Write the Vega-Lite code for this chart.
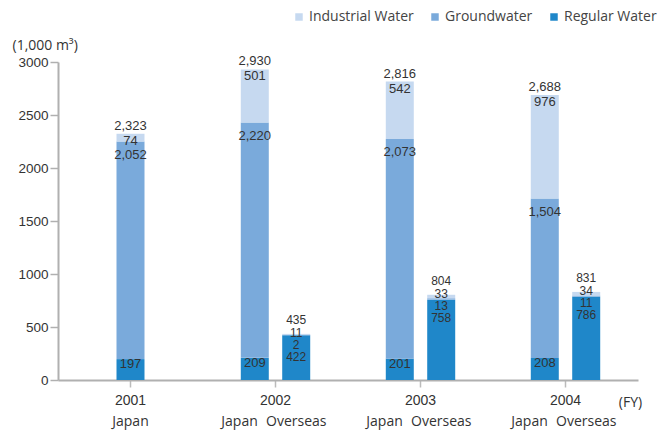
{
  "$schema": "https://vega.github.io/schema/vega-lite/v6.json",
  "width": 580,
  "height": 318,
  "autosize": {"type": "none"},
  "padding": {"left": 58, "top": 62, "right": 28, "bottom": 52},
  "background": "white",
  "config": {"view": {"stroke": null}, "font": "Liberation Sans"},
  "data": {
    "values": [
      {"year": "2001", "region": "Japan", "series": "Regular Water", "value": 197},
      {"year": "2001", "region": "Japan", "series": "Groundwater", "value": 2052},
      {"year": "2001", "region": "Japan", "series": "Industrial Water", "value": 74},
      {"year": "2002", "region": "Japan", "series": "Regular Water", "value": 209},
      {"year": "2002", "region": "Japan", "series": "Groundwater", "value": 2220},
      {"year": "2002", "region": "Japan", "series": "Industrial Water", "value": 501},
      {"year": "2002", "region": "Overseas", "series": "Regular Water", "value": 422},
      {"year": "2002", "region": "Overseas", "series": "Groundwater", "value": 2},
      {"year": "2002", "region": "Overseas", "series": "Industrial Water", "value": 11},
      {"year": "2003", "region": "Japan", "series": "Regular Water", "value": 201},
      {"year": "2003", "region": "Japan", "series": "Groundwater", "value": 2073},
      {"year": "2003", "region": "Japan", "series": "Industrial Water", "value": 542},
      {"year": "2003", "region": "Overseas", "series": "Regular Water", "value": 758},
      {"year": "2003", "region": "Overseas", "series": "Groundwater", "value": 13},
      {"year": "2003", "region": "Overseas", "series": "Industrial Water", "value": 33},
      {"year": "2004", "region": "Japan", "series": "Regular Water", "value": 208},
      {"year": "2004", "region": "Japan", "series": "Groundwater", "value": 1504},
      {"year": "2004", "region": "Japan", "series": "Industrial Water", "value": 976},
      {"year": "2004", "region": "Overseas", "series": "Regular Water", "value": 786},
      {"year": "2004", "region": "Overseas", "series": "Groundwater", "value": 11},
      {"year": "2004", "region": "Overseas", "series": "Industrial Water", "value": 34}
    ]
  },
  "transform": [
    {"calculate": "indexof(['Regular Water','Groundwater','Industrial Water'], datum.series)", "as": "rank"},
    {"calculate": "datum.year === '2001' ? 'C' : datum.region", "as": "slot"},
    {"stack": "value", "groupby": ["year", "region"], "sort": [{"field": "rank", "order": "ascending"}], "as": ["v0", "v1"]},
    {"joinaggregate": [{"op": "sum", "field": "value", "as": "total"}], "groupby": ["year", "region"]}
  ],
  "encoding": {
    "x": {
      "field": "year", "type": "ordinal",
      "scale": {"domain": ["2001", "2002", "2003", "2004"], "paddingInner": 0, "paddingOuter": 0},
      "axis": {
        "title": "(FY)", "titleX": 572, "titleY": 22, "titleAlign": "center", "titleBaseline": "middle",
        "titleFont": "Open Sans", "titleFontWeight": "normal", "titleFontSize": 14, "titleColor": "#333",
        "labelAngle": 0, "labelFont": "Liberation Sans", "labelFontSize": 14, "labelColor": "#333",
        "labelPadding": 6, "tickSize": 7, "tickColor": "#bbb", "tickWidth": 1.5,
        "domainColor": "#b0b0b0", "domainWidth": 2
      }
    },
    "xOffset": {
      "field": "slot", "type": "nominal",
      "scale": {"domain": ["p1", "p2", "Japan", "C", "Overseas", "p3", "p4"], "paddingInner": 0, "paddingOuter": 0}
    }
  },
  "layer": [
    {
      "mark": {"type": "bar", "width": 28},
      "encoding": {
        "y": {
          "field": "v1", "type": "quantitative", "title": "(1,000 m³)",
          "scale": {"domain": [0, 3000], "nice": false},
          "axis": {
            "titleAngle": 0, "titleAlign": "left", "titleBaseline": "middle", "titleX": -46, "titleY": -17,
            "titleFont": "Open Sans", "titleFontWeight": "normal", "titleFontSize": 14, "titleColor": "#333",
            "values": [0, 500, 1000, 1500, 2000, 2500, 3000], "format": "d",
            "labelFont": "Liberation Sans", "labelFontSize": 13.5, "labelColor": "#333",
            "tickSize": 8, "labelPadding": 2, "tickColor": "#b0b0b0", "tickWidth": 1.5,
            "domainColor": "#b0b0b0", "domainWidth": 2, "grid": false
          }
        },
        "y2": {"field": "v0"},
        "color": {
          "field": "series", "type": "nominal",
          "scale": {"domain": ["Industrial Water", "Groundwater", "Regular Water"], "range": ["#c6d9f0", "#7aaadb", "#1f87c9"]},
          "legend": {
            "orient": "none", "legendX": 234, "legendY": -52, "direction": "horizontal", "title": null,
            "symbolType": "square", "symbolSize": 56, "symbolStrokeWidth": 0,
            "labelFont": "Open Sans", "labelFontSize": 14, "labelColor": "#444",
            "columnPadding": 14, "labelOffset": 3
          }
        }
      }
    },
    {
      "transform": [{"filter": "datum.region === 'Japan' && datum.series === 'Industrial Water'"}],
      "mark": {"type": "text", "baseline": "middle", "dy": -8, "fontSize": 13, "color": "#333"},
      "encoding": {"y": {"field": "total", "type": "quantitative", "title": "(1,000 m³)"}, "text": {"field": "total", "format": ",d"}}
    },
    {
      "transform": [{"filter": "datum.region === 'Japan' && datum.series === 'Industrial Water'"}],
      "mark": {"type": "text", "baseline": "middle", "dy": 7, "fontSize": 13, "color": "#333"},
      "encoding": {"y": {"field": "v1", "type": "quantitative", "title": "(1,000 m³)"}, "text": {"field": "value", "format": ",d"}}
    },
    {
      "transform": [{"filter": "datum.region === 'Japan' && datum.series === 'Groundwater'"}],
      "mark": {"type": "text", "baseline": "middle", "dy": 13, "fontSize": 13, "color": "#333"},
      "encoding": {"y": {"field": "v1", "type": "quantitative", "title": "(1,000 m³)"}, "text": {"field": "value", "format": ",d"}}
    },
    {
      "transform": [{"filter": "datum.region === 'Japan' && datum.series === 'Regular Water'"}],
      "mark": {"type": "text", "baseline": "middle", "dy": 5, "fontSize": 13, "color": "#333"},
      "encoding": {"y": {"field": "v1", "type": "quantitative", "title": "(1,000 m³)"}, "text": {"field": "value", "format": ",d"}}
    },
    {
      "transform": [{"filter": "datum.region === 'Overseas' && datum.series === 'Industrial Water'"}],
      "mark": {"type": "text", "baseline": "middle", "dy": -14, "fontSize": 12, "color": "#333"},
      "encoding": {"y": {"field": "total", "type": "quantitative", "title": "(1,000 m³)"}, "text": {"field": "total", "format": ",d"}}
    },
    {
      "transform": [{"filter": "datum.region === 'Overseas' && datum.series === 'Industrial Water'"}],
      "mark": {"type": "text", "baseline": "middle", "dy": -1, "fontSize": 12, "color": "#333"},
      "encoding": {"y": {"field": "total", "type": "quantitative", "title": "(1,000 m³)"}, "text": {"field": "value", "format": ",d"}}
    },
    {
      "transform": [{"filter": "datum.region === 'Overseas' && datum.series === 'Groundwater'"}],
      "mark": {"type": "text", "baseline": "middle", "dy": 11, "fontSize": 12, "color": "#333"},
      "encoding": {"y": {"field": "total", "type": "quantitative", "title": "(1,000 m³)"}, "text": {"field": "value", "format": ",d"}}
    },
    {
      "transform": [{"filter": "datum.region === 'Overseas' && datum.series === 'Regular Water'"}],
      "mark": {"type": "text", "baseline": "middle", "dy": 23, "fontSize": 12, "color": "#333"},
      "encoding": {"y": {"field": "total", "type": "quantitative", "title": "(1,000 m³)"}, "text": {"field": "value", "format": ",d"}}
    },
    {
      "transform": [{"filter": "datum.series === 'Regular Water' && (datum.region === 'Overseas' || datum.year === '2001')"}],
      "mark": {"type": "text", "baseline": "middle", "dy": 42, "font": "Open Sans", "fontSize": 14, "color": "#333"},
      "encoding": {"y": {"datum": 0}, "text": {"field": "region"}}
    },
    {
      "transform": [{"filter": "datum.series === 'Regular Water' && datum.region === 'Japan' && datum.year !== '2001'"}],
      "mark": {"type": "text", "baseline": "middle", "align": "right", "dx": 3, "dy": 42, "font": "Open Sans", "fontSize": 14, "color": "#333"},
      "encoding": {"y": {"datum": 0}, "text": {"field": "region"}}
    }
  ]
}
